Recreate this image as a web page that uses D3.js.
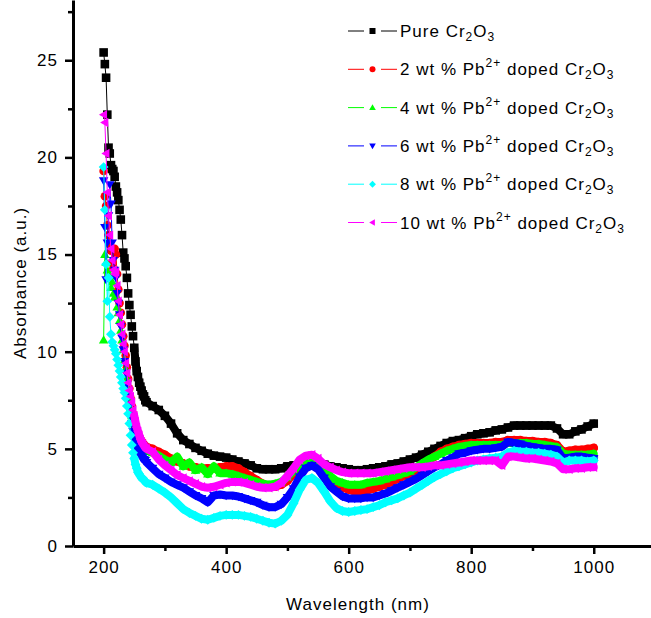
<!DOCTYPE html>
<html>
<head>
<meta charset="utf-8">
<script src="https://cdn.jsdelivr.net/npm/d3@7"></script>
<style>
  body { margin: 0; background: #fff; }
  svg { display: block; font-family: "Liberation Sans", Arial, Helvetica, sans-serif; }
</style>
</head>
<body>
<script>
// UV-Vis absorbance of pure and Pb2+ doped Cr2O3

const wavelength = [
  200, 202, 204, 206, 208, 210, 212, 214, 216, 218, 220, 222, 224, 226, 228, 230, 232, 234,
  236, 238, 240, 242, 244, 246, 248, 250, 252, 254, 256, 258, 260, 262, 264, 266, 268, 270,
  280, 290, 300, 310, 320, 330, 340, 350, 360, 370,
  380, 390, 400, 410, 420, 430, 440, 450, 460, 470,
  480, 490, 500, 510, 520, 530, 540, 550, 560, 570,
  580, 590, 600, 610, 620, 630, 640, 650, 660, 670,
  680, 690, 700, 710, 720, 730, 740, 750, 760, 770,
  780, 790, 800, 810, 820, 830, 840, 850, 860, 870,
  880, 890, 900, 910, 920, 930, 940, 950, 960, 970,
  980, 990, 1000
];

const pure = [
  25.4, 24.8, 24.1, 22.2, 20.5, 20.2, 19.6, 19.4, 19.3, 19.0, 18.5, 18.2, 17.8, 17.3, 16.8, 16.0, 15.1, 14.8,
  14.4, 13.8, 13.0, 12.4, 11.9, 11.3, 10.8, 10.2, 9.5, 9.0, 8.7, 8.4, 8.2, 8.0, 7.8, 7.7, 7.5, 7.4,
  7.2, 7.0, 6.7, 6.3, 5.8, 5.45, 5.25, 5.05, 4.9, 4.75,
  4.65, 4.6, 4.55, 4.45, 4.35, 4.25, 4.15, 4.0, 3.95, 3.95,
  3.95, 4.0, 4.1, 4.15, 4.2, 4.25, 4.3, 4.25, 4.2, 4.1,
  4.05, 4.0, 3.95, 3.9, 3.9, 3.95, 4.0, 4.05, 4.1, 4.2,
  4.25, 4.35, 4.45, 4.55, 4.7, 4.85, 5.0, 5.15, 5.3, 5.4,
  5.45, 5.55, 5.65, 5.75, 5.8, 5.85, 5.95, 6.0, 6.1, 6.2,
  6.2, 6.2, 6.2, 6.2, 6.2, 6.2, 6.05, 5.75, 5.75, 5.9,
  6.0, 6.15, 6.3
];

const pb2 = [
  19.3, 18.0, 17.5, 16.5, 16.0, 15.5, 15.2, 14.6, 14.3, 15.3, 15.0, 14.0, 13.2, 12.5, 12.0, 11.4, 10.8, 10.3,
  9.8, 9.2, 8.6, 8.1, 7.6, 7.2, 6.8, 6.5, 6.2, 6.0, 5.8, 5.6, 5.5, 5.4, 5.3, 5.2, 5.15, 5.1,
  5.0, 4.85, 4.7, 4.5, 4.35, 4.25, 4.1, 4.05, 4.0, 4.0,
  4.0, 4.05, 4.1, 4.1, 4.0, 3.8, 3.6, 3.4, 3.2, 3.05,
  3.05, 3.15, 3.35, 3.7, 4.05, 4.25, 4.3, 4.15, 3.9, 3.5,
  3.2, 3.0, 2.9, 2.8, 2.8, 2.85, 2.95, 3.05, 3.15, 3.3,
  3.45, 3.6, 3.7, 3.9, 4.1, 4.35, 4.6, 4.85, 5.0, 5.1,
  5.2, 5.25, 5.3, 5.3, 5.3, 5.3, 5.35, 5.35, 5.45, 5.45,
  5.45, 5.4, 5.4, 5.35, 5.35, 5.3, 5.2, 4.85, 4.9, 4.95,
  4.95, 5.0, 5.05
];

const pb4 = [
  10.6, 15.0, 14.6, 14.2, 13.8, 13.9, 13.3, 13.6, 13.0, 12.8, 12.9, 12.3, 12.0, 11.6, 11.1, 10.6, 10.1, 9.6,
  9.1, 8.6, 8.1, 7.6, 7.1, 6.7, 6.3, 6.0, 5.7, 5.5, 5.35, 5.25, 5.15, 5.1, 5.05, 5.0, 4.95, 4.9,
  4.8, 4.65, 4.45, 4.3, 4.6, 4.1, 4.3, 3.9, 4.05, 3.7,
  4.1, 3.75, 3.75, 3.7, 3.6, 3.5, 3.4, 3.3, 3.2, 3.15,
  3.2, 3.3, 3.55, 3.85, 4.2, 4.35, 4.4, 4.25, 4.05, 3.6,
  3.35, 3.25, 3.15, 3.15, 3.15, 3.25, 3.3, 3.35, 3.45, 3.55,
  3.65, 3.75, 3.85, 4.05, 4.25, 4.45, 4.6, 4.75, 4.9, 5.0,
  5.1, 5.15, 5.2, 5.2, 5.2, 5.2, 5.2, 5.2, 5.3, 5.3,
  5.3, 5.3, 5.25, 5.25, 5.2, 5.15, 5.1, 4.75, 4.7, 4.7,
  4.7, 4.7, 4.75
];

const pb6 = [
  18.8, 16.4, 13.7, 15.6, 17.0, 18.6, 17.6, 15.6, 14.7, 14.2, 13.8, 13.0, 12.5, 11.9, 11.3, 10.7, 10.1, 9.5,
  8.9, 8.3, 7.7, 7.2, 6.7, 6.3, 5.9, 5.6, 5.4, 5.2, 5.0, 4.9, 4.75, 4.65, 4.55, 4.45, 4.4, 4.3,
  4.0, 3.7, 3.5, 3.3, 3.15, 3.0, 2.8, 2.6, 2.45, 2.25,
  2.6, 2.65, 2.6, 2.6, 2.55, 2.45, 2.35, 2.25, 2.1, 2.0,
  2.0, 2.15, 2.5, 2.95, 3.55, 4.0, 4.15, 3.95, 3.5, 3.05,
  2.8, 2.55, 2.45, 2.45, 2.45, 2.5, 2.5, 2.6, 2.7, 2.85,
  3.0, 3.15, 3.3, 3.45, 3.65, 3.85, 4.05, 4.2, 4.4, 4.55,
  4.75, 4.8, 4.9, 4.95, 5.0, 5.0, 5.05, 5.1, 5.35, 5.3,
  5.25, 5.15, 5.1, 5.05, 5.0, 5.0, 4.95, 4.5, 4.55, 4.6,
  4.6, 4.55, 4.5
];

const pb8 = [
  19.5, 17.3, 14.5, 12.6, 13.8, 11.8, 10.9, 10.5, 10.3, 10.1, 9.9, 9.6, 9.3, 9.0, 8.7, 8.4, 8.1, 7.9,
  7.6, 7.2, 6.8, 6.3, 5.7, 5.2, 4.8, 4.5, 4.2, 4.0, 3.8, 3.7, 3.6, 3.5, 3.45, 3.4, 3.3, 3.25,
  3.15, 2.95, 2.75, 2.5, 2.2, 1.9, 1.7, 1.55, 1.4, 1.35,
  1.45, 1.55, 1.6, 1.6, 1.6, 1.55, 1.5, 1.4, 1.3, 1.2,
  1.15, 1.3, 1.6, 2.2, 2.9, 3.4, 3.5, 3.25, 2.8, 2.3,
  1.95, 1.8, 1.75, 1.8, 1.85, 1.9, 2.0, 2.1, 2.25, 2.35,
  2.45, 2.6, 2.75, 2.95, 3.15, 3.35, 3.55, 3.7, 3.85, 4.0,
  4.1, 4.2, 4.3, 4.4, 4.45, 4.5, 4.55, 4.6, 4.8, 4.9,
  4.85, 4.85, 4.8, 4.8, 4.75, 4.7, 4.6, 4.3, 4.4, 4.4,
  4.4, 4.35, 4.4
];

const pb10 = [
  22.2, 21.8, 20.2, 18.2, 17.0, 16.0, 15.3, 14.7, 14.2, 14.0, 14.1, 13.4, 12.6, 11.9, 11.4, 10.9, 10.4, 10.0,
  9.4, 8.9, 8.4, 8.0, 7.7, 7.4, 7.0, 6.7, 6.4, 6.1, 5.9, 5.7, 5.5, 5.35, 5.25, 5.15, 5.05, 5.0,
  4.85, 4.45, 4.15, 3.9, 3.65, 3.5, 3.35, 3.2, 3.05, 3.0,
  3.05, 3.15, 3.25, 3.3, 3.3, 3.25, 3.15, 3.05, 3.0, 3.0,
  3.05, 3.25, 3.6, 4.0, 4.45, 4.65, 4.7, 4.5, 4.2, 4.05,
  3.9, 3.8, 3.75, 3.75, 3.75, 3.75, 3.75, 3.8, 3.85, 3.9,
  3.95, 4.0, 4.05, 4.05, 4.05, 4.1, 4.15, 4.15, 4.2, 4.25,
  4.3, 4.35, 4.4, 4.4, 4.4, 4.4, 4.4, 4.15, 4.6, 4.6,
  4.55, 4.5, 4.5, 4.45, 4.4, 4.35, 4.25, 3.95, 3.95, 4.0,
  4.0, 4.05, 4.05
];

const dopings = ["", "2", "4", "6", "8", "10"];
const colors = ["#000000", "#ff0000", "#00ff00", "#0000ff", "#00ffff", "#ff00ff"];
const shapes = ["square", "circle", "up", "down", "diamond", "left"];
const allSeries = [pure, pb2, pb4, pb6, pb8, pb10];

const xTicks = [200, 400, 600, 800, 1000];
const xMinor = [300, 500, 700, 900];
const yTicks = [0, 5, 10, 15, 20, 25];
const yMinor = [2.5, 7.5, 12.5, 17.5, 22.5, 27.5];

const w = 651, h = 618;

const svg = d3.select('body')
  .append('svg')
  .attr('width', w)
  .attr('height', h);

const x = d3.scaleLinear().domain([150, 1100]).range([73, 655]);
const y = d3.scaleLinear().domain([0, 28.1]).range([546, 0]);

// marker outlines, r = half size
function shapePath(kind, r) {
  switch (kind) {
    case 'square': return `M${-r},${-r}h${2 * r}v${2 * r}h${-2 * r}Z`;
    case 'circle': return d3.symbol(d3.symbolCircle, Math.PI * r * r)();
    case 'up': return `M0,${-r * 1.1}L${r * 1.1},${r * 0.8}L${-r * 1.1},${r * 0.8}Z`;
    case 'down': return `M0,${r * 1.1}L${r * 1.1},${-r * 0.8}L${-r * 1.1},${-r * 0.8}Z`;
    case 'diamond': return `M0,${-r * 1.15}L${r * 1.15},0L0,${r * 1.15}L${-r * 1.15},0Z`;
    case 'left': return `M${-r * 1.1},0L${r * 0.8},${-r * 1.1}L${r * 0.8},${r * 1.1}Z`;
  }
}

// curves
const line = d3.line().x(d => x(d[0])).y(d => y(d[1]));

allSeries.forEach((vals, k) => {
  const pts = vals.map((v, i) => [wavelength[i], v]);
  const g = svg.append('g');
  // thin connecting line over the whole range
  g.append('path')
    .attr('d', line(pts))
    .attr('fill', 'none')
    .attr('stroke', colors[k])
    .attr('stroke-width', 1);
  // the dense flat part reads as a solid band of markers
  g.append('path')
    .attr('d', line(pts.filter(d => d[0] >= 250)))
    .attr('fill', 'none')
    .attr('stroke', colors[k])
    .attr('stroke-width', 8)
    .attr('stroke-linejoin', 'round')
    .attr('stroke-linecap', 'round');
  g.selectAll('path.m')
    .data(pts)
    .enter()
    .append('path')
    .attr('class', 'm')
    .attr('d', shapePath(shapes[k], 4.3))
    .attr('transform', d => `translate(${x(d[0])},${y(d[1])})`)
    .attr('fill', colors[k]);
});

// axes
const tickFont = g => g.selectAll('text')
  .attr('font-size', 17)
  .attr('letter-spacing', 1)
  .attr('fill', '#000')
  .attr('font-family', '"Liberation Sans", Arial, sans-serif');

const xAxis = svg.append('g')
  .attr('transform', 'translate(0,546)')
  .call(d3.axisBottom(x).tickValues(xTicks).tickFormat(d3.format('d'))
    .tickSize(8).tickSizeOuter(0).tickPadding(7));
xAxis.call(tickFont);
svg.append('g')
  .attr('transform', 'translate(0,546)')
  .call(d3.axisBottom(x).tickValues(xMinor).tickSize(5).tickSizeOuter(0).tickFormat(''))
  .select('.domain').remove();

const yAxis = svg.append('g')
  .attr('transform', 'translate(73,0)')
  .call(d3.axisLeft(y).tickValues(yTicks).tickFormat(d3.format('d'))
    .tickSize(8).tickSizeOuter(0).tickPadding(7));
yAxis.call(tickFont);
svg.append('g')
  .attr('transform', 'translate(73,0)')
  .call(d3.axisLeft(y).tickValues(yMinor).tickSize(5).tickSizeOuter(0).tickFormat(''))
  .select('.domain').remove();

svg.selectAll('.domain').attr('stroke', '#000').attr('stroke-width', 3);
svg.selectAll('.tick line').attr('stroke', '#000').attr('stroke-width', 2.5);

svg.append('text')
  .attr('x', 358)
  .attr('y', 610)
  .attr('text-anchor', 'middle')
  .attr('font-size', 17)
  .attr('letter-spacing', 1)
  .text('Wavelength (nm)');

svg.append('text')
  .attr('transform', 'translate(26,283) rotate(-90)')
  .attr('text-anchor', 'middle')
  .attr('font-size', 17)
  .attr('letter-spacing', 1)
  .text('Absorbance (a.u.)');

// legend
function rich(t, parts) {
  let cur = 0;
  parts.forEach(([s, shift]) => {
    const ts = t.append('tspan').attr('dy', shift - cur).text(s);
    if (shift !== 0) ts.attr('font-size', 12);
    cur = shift;
  });
}

dopings.forEach((dp, k) => {
  const ly = 31 + k * 38.3;
  const lg = svg.append('g');
  lg.append('line').attr('x1', 348).attr('x2', 364).attr('y1', ly).attr('y2', ly)
    .attr('stroke', colors[k]).attr('stroke-width', 1);
  lg.append('line').attr('x1', 381).attr('x2', 397).attr('y1', ly).attr('y2', ly)
    .attr('stroke', colors[k]).attr('stroke-width', 1);
  lg.append('path')
    .attr('d', shapePath(shapes[k], 3))
    .attr('transform', `translate(372.5,${ly})`)
    .attr('fill', colors[k]);
  const t = lg.append('text')
    .attr('x', 400)
    .attr('y', ly + 6)
    .attr('font-size', 17)
    .attr('letter-spacing', 1);
  if (dp === '') {
    rich(t, [['Pure Cr', 0], ['2', 4], ['O', 0], ['3', 4]]);
  } else {
    rich(t, [[`${dp} wt % Pb`, 0], ['2+', -8], [' doped Cr', 0], ['2', 4], ['O', 0], ['3', 4]]);
  }
});
</script>
</body>
</html>
